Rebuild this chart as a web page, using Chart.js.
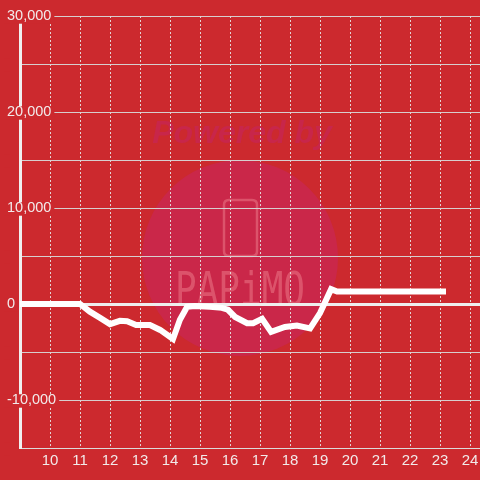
<!DOCTYPE html>
<html>
<head>
<meta charset="utf-8">
<script src="https://cdn.jsdelivr.net/npm/chart.js@4/dist/chart.umd.min.js"></script>
<style>
  html, body { margin: 0; padding: 0; background: #cc292e; }
  #wrap { width: 480px; height: 480px; position: relative; }
</style>
</head>
<body>
<div id="wrap"><canvas id="c"></canvas></div>
<script>
// Hours of day (x) and values (y)
const hours  = [9.0, 11.0, 11.33, 11.67, 12.0, 12.33, 12.57, 12.87, 13.33, 13.67, 14.1, 14.33, 14.57, 14.83, 15.33, 15.73, 15.93, 16.17, 16.57, 16.77, 17.07, 17.37, 17.83, 18.23, 18.67, 19.0, 19.37, 19.57, 23.1];
const values = [0, 0, -800, -1450, -2100, -1750, -1800, -2200, -2200, -2700, -3650, -1650, -300, -200, -300, -400, -600, -1350, -2000, -2000, -1550, -2900, -2400, -2250, -2550, -950, 1550, 1300, 1300];
const xTickValues = [10, 11, 12, 13, 14, 15, 16, 17, 18, 19, 20, 21, 22, 23, 24];
const yTickLabels = ['-10,000', '0', '10,000', '20,000', '30,000'];

const BG = '#cc292e';
const TEXT = '#f2eaea';

const watermark = {
  id: 'watermark',
  beforeDraw(chart) {
    const ctx = chart.ctx;
    ctx.save();
    ctx.fillStyle = BG;
    ctx.fillRect(0, 0, chart.width, chart.height);
    // circle
    ctx.beginPath();
    ctx.arc(240, 258, 98, 0, Math.PI * 2);
    ctx.fillStyle = '#ca2749';
    ctx.fill();
    // Powered by
    ctx.font = "italic bold 32px 'Liberation Sans', Arial, sans-serif";
    ctx.fillStyle = '#c8264a';
    ctx.textAlign = 'center';
    ctx.textBaseline = 'alphabetic';
    ctx.fillText('Powered by', 242, 143);
    // phone icon
    ctx.strokeStyle = 'rgba(235,120,135,0.55)';
    ctx.lineWidth = 2.5;
    const x = 224, y = 200, w = 33, h = 56, r = 5;
    ctx.beginPath();
    ctx.moveTo(x + r, y);
    ctx.lineTo(x + w - r, y);
    ctx.quadraticCurveTo(x + w, y, x + w, y + r);
    ctx.lineTo(x + w, y + h - r);
    ctx.quadraticCurveTo(x + w, y + h, x + w - r, y + h);
    ctx.lineTo(x + r, y + h);
    ctx.quadraticCurveTo(x, y + h, x, y + h - r);
    ctx.lineTo(x, y + r);
    ctx.quadraticCurveTo(x, y, x + r, y);
    ctx.stroke();
    // PAPiMO
    ctx.fillStyle = 'rgba(235,120,135,0.55)';
    ctx.font = "36px 'DejaVu Sans Mono', monospace";
    ctx.translate(240, 305);
    ctx.scale(1, 1.3);
    ctx.textBaseline = 'alphabetic';
    ctx.fillText('PAPiMO', 0, 0);
    ctx.restore();
  }
};

Chart.defaults.font.family = "'Liberation Sans', Arial, sans-serif";
Chart.defaults.font.size = 15;
Chart.defaults.color = TEXT;

new Chart(document.getElementById('c'), {
  type: 'line',
  data: {
    datasets: [{
      data: hours.map((h, i) => ({ x: h, y: values[i] })),
      borderColor: '#ffffff',
      borderWidth: 6,
      borderCapStyle: 'square',
      pointRadius: 0,
      tension: 0,
      fill: false
    }]
  },
  options: {
    responsive: true,
    maintainAspectRatio: false,
    animation: false,
    layout: { padding: { top: 16, left: 0, right: 0, bottom: 0 } },
    plugins: { legend: { display: false }, tooltip: { enabled: false } },
    scales: {
      x: {
        type: 'linear',
        min: 9,
        max: 24.333,
        afterFit: s => { s.height = 32; s.paddingLeft = 0; s.paddingRight = 0; },
        afterBuildTicks: s => { s.ticks = [9].concat(xTickValues).map(v => ({ value: v })); },
        ticks: {
          padding: 4,
          maxRotation: 0,
          autoSkip: false,
          callback: v => (xTickValues.includes(v) ? String(v) : '')
        },
        grid: { color: 'rgba(230,230,230,0.9)', lineWidth: 1, drawTicks: false },
        border: { display: true, color: 'rgba(220,220,220,0.9)', width: 1, dash: [2, 2] }
      },
      y: {
        min: -15000,
        max: 30000,
        afterFit: s => { s.width = 20; s.paddingTop = 0; s.paddingBottom = 0; },
        ticks: {
          stepSize: 5000,
          mirror: true,
          padding: -13,
          font: { size: 14.5 },
          showLabelBackdrop: true,
          backdropColor: BG,
          backdropPadding: { top: -3, bottom: -1, left: 3, right: 3 },
          callback: v => {
            const lbl = v.toLocaleString('en-US');
            return yTickLabels.includes(lbl) ? lbl : '';
          }
        },
        grid: {
          drawTicks: false,
          color: c => (c.tick && c.tick.value === 0 ? '#eeeeee' : 'rgba(215,215,215,0.95)'),
          lineWidth: c => (c.tick && c.tick.value === 0 ? 3 : 1)
        },
        border: { display: true, color: '#f0f0f0', width: 3 }
      }
    }
  },
  plugins: [watermark]
});
</script>
</body>
</html>
